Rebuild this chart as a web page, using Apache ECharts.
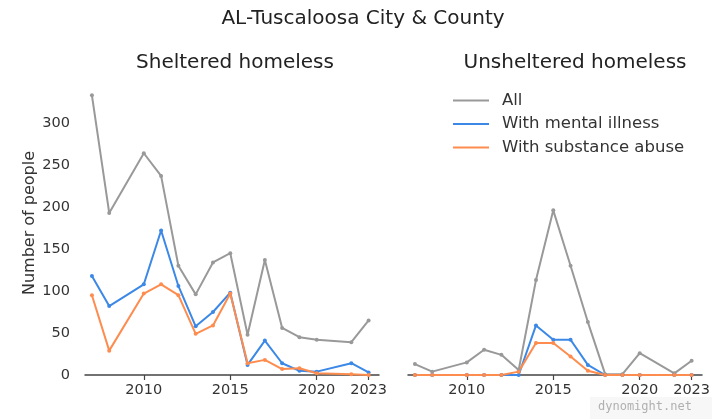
<!DOCTYPE html>
<html><head><meta charset="utf-8">
<script src="https://cdn.jsdelivr.net/npm/echarts@6/dist/echarts.min.js"></script>
<style>html,body{margin:0;padding:0;background:#fff}#c{width:720px;height:420px}</style>
</head><body><div id="c"></div>
<script>
const years = [2007,2008,2010,2011,2012,2013,2014,2015,2016,2017,2018,2019,2020,2022,2023];
const shelteredAll = [333,193,264,237,130,96,134,145,48,137,56,45,42,39,65];
const shelteredMental = [118,82,108,172,106,58,75,98,12,41,14,5,4,14,3];
const shelteredSubstance = [95,29,97,108,95,49,59,97,14,18,7,8,2,1,0];
const unshelteredAll = [13,4,15,30,24,6,113,196,130,63,1,1,26,2,17];
const unshelteredMental = [0,0,0,0,0,0,59,42,42,12,0,0,0,0,0];
const unshelteredSubstance = [0,0,0,0,0,4,38,38,22,5,0,0,0,0,0];
const xTicks = [2010,2015,2020,2023];
const yTicks = [0,50,100,150,200,250,300];
const seriesNames = ['All','With mental illness','With substance abuse'];
const colors = ['#999999','#3b88e6','#fd8c4e'];

const FONT = 'DejaVu Sans';
const pair = arr => years.map((y,i)=>[y,arr[i]]);
function mkSeries(name, data, color, idx){
  return {name, type:'line', xAxisIndex:idx, yAxisIndex:idx, data:pair(data),
    symbol:'circle', symbolSize:4, showSymbol:true, itemStyle:{color},
    lineStyle:{color, width:2}, animation:false, z: 3};
}
function mkX(idx){
  return {type:'value', gridIndex:idx, min:2006.6, max:2023.6,
    axisLine:{show:true, lineStyle:{color:'#444', width:1.5}},
    axisTick:{show:true, customValues:xTicks, length:5, lineStyle:{color:'#444', width:1.2}},
    axisLabel:{customValues:xTicks, formatter: v => String(v), color:'#333', fontSize:14.5, fontFamily:FONT, margin:8},
    splitLine:{show:false}};
}
function mkY(idx, labels){
  return {type:'value', gridIndex:idx, min:0, max:350,
    name: labels ? 'Number of people' : '', nameLocation:'middle', nameGap:47,
    nameTextStyle:{color:'#333', fontSize:16, fontFamily:FONT, padding:[0,0,0,10]},
    axisLine:{show:false}, axisTick:{show:false},
    axisLabel:{show:labels, customValues:yTicks, color:'#333', fontSize:14.5, fontFamily:FONT, margin:15},
    splitLine:{show:false}};
}
const chart = echarts.init(document.getElementById('c'), null, {renderer:'canvas'});
chart.setOption({
  animation:false,
  textStyle:{fontFamily:FONT},
  title:[
    {text:'AL-Tuscaloosa City & County', left:358, textAlign:'center', top:4, textStyle:{fontSize:20, fontWeight:'normal', color:'#222', fontFamily:FONT}},
    {text:'Sheltered homeless', left:230, textAlign:'center', top:48, textStyle:{fontSize:20, fontWeight:'normal', color:'#222', fontFamily:FONT}},
    {text:'Unsheltered homeless', left:570, textAlign:'center', top:48, textStyle:{fontSize:20, fontWeight:'normal', color:'#222', fontFamily:FONT}}
  ],
  legend:{data:seriesNames, left:448, top:87, orient:'vertical', itemGap:6.5, itemWidth:36, itemHeight:19,
    textStyle:{fontSize:16.5, color:'#333', fontFamily:FONT, padding:[0,0,0,8]},
    icon:'path://M0,0 L36,0 L36,2 L0,2 Z'},
  grid:[
    {left:85, top:81, width:294, height:294},
    {left:408, top:81, width:294, height:294}
  ],
  xAxis:[mkX(0), mkX(1)],
  yAxis:[mkY(0,true), mkY(1,false)],
  series:[
    mkSeries(seriesNames[0], shelteredAll, colors[0], 0),
    mkSeries(seriesNames[1], shelteredMental, colors[1], 0),
    mkSeries(seriesNames[2], shelteredSubstance, colors[2], 0),
    mkSeries(seriesNames[0], unshelteredAll, colors[0], 1),
    mkSeries(seriesNames[1], unshelteredMental, colors[1], 1),
    mkSeries(seriesNames[2], unshelteredSubstance, colors[2], 1)
  ],
  graphic:[
    {type:'rect', left:590, top:397, shape:{width:122, height:22}, style:{fill:'#f7f7f7'}, z:10},
    {type:'text', left:598, top:401, style:{text:'dynomight.net', fill:'#b0b0b0', fontSize:12, fontFamily:'DejaVu Sans Mono'}, z:11}
  ]
});
</script></body></html>
